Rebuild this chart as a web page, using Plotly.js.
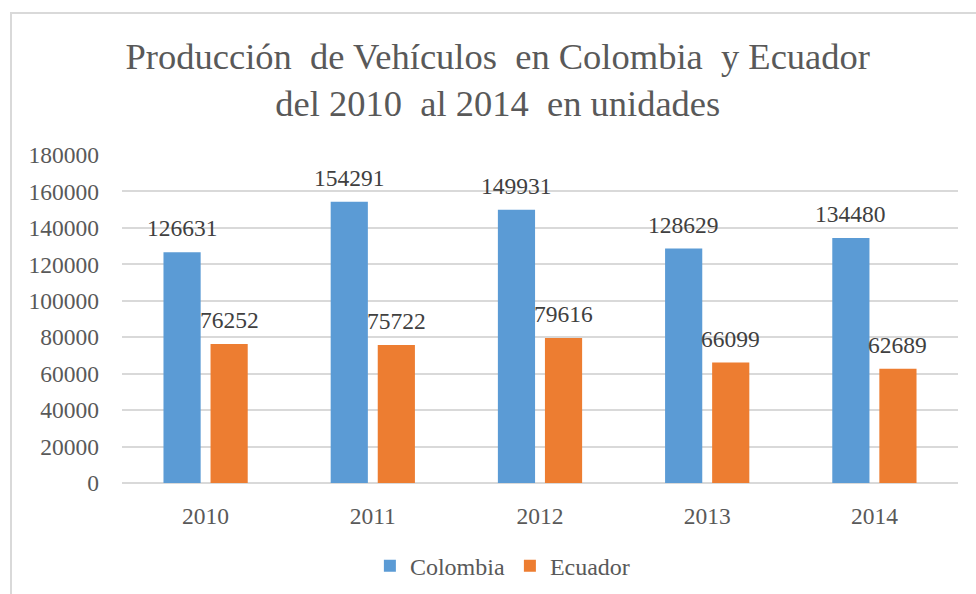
<!DOCTYPE html>
<html>
<head>
<meta charset="utf-8">
<script src="https://cdn.plot.ly/plotly-3.0.1.min.js"></script>
<style>
  html, body { margin: 0; padding: 0; background: #fff; }
  #frame { position: absolute; left: 10px; top: 12px; width: 1000px; height: 620px;
           border-left: 2px solid #d9d9d9; border-top: 2px solid #d9d9d9; box-sizing: border-box; }
  #chart { position: absolute; left: 0; top: 0; width: 976px; height: 594px; }
</style>
</head>
<body>
<div id="frame"></div>
<div id="chart"></div>
<script>
const years = ['2010', '2011', '2012', '2013', '2014'];
const colombia = [126631, 154291, 149931, 128629, 134480];
const ecuador = [76252, 75722, 79616, 66099, 62689];
const yTicks = [0, 20000, 40000, 60000, 80000, 100000, 120000, 140000, 160000, 180000];

const serif = 'Liberation Serif';
const blue = '#5b9bd5';
const orange = '#ed7d31';

const traces = [
  { type: 'bar', name: 'Colombia', x: years, y: colombia, marker: { color: blue }, hoverinfo: 'none' },
  { type: 'bar', name: 'Ecuador', x: years, y: ecuador, marker: { color: orange }, hoverinfo: 'none' }
];

const bargap = 0.437, bargroupgap = 0.21;
const plotW = 976 - 122 - 18;
const slot = plotW / years.length * (1 - bargap) / 2;
const annotations = [];
[colombia, ecuador].forEach((vals, si) => {
  vals.forEach((v, i) => {
    annotations.push({
      x: i, y: v, xref: 'x', yref: 'y', text: String(v), showarrow: false,
      xshift: (si === 0 ? -1 : 1) * slot / 2, yshift: 9, yanchor: 'bottom',
      font: { family: serif, size: 23.5, color: '#404040' }
    });
  });
});

const layout = {
  width: 976, height: 594,
  font: { family: serif, color: '#595959' },
  paper_bgcolor: 'rgba(0,0,0,0)', plot_bgcolor: 'rgba(0,0,0,0)',
  margin: { l: 122, r: 18, t: 155, b: 111, autoexpand: false },
  title: {
    text: 'Producción  de Vehículos  en Colombia  y Ecuador<br>del 2010  al 2014  en unidades',
    font: { family: serif, size: 36.5, color: '#595959' },
    x: 0.51, xanchor: 'center', y: 0.884, yanchor: 'top'
  },
  barmode: 'group', bargap: bargap, bargroupgap: bargroupgap,
  xaxis: {
    type: 'category', range: [-0.5, years.length - 0.5], autorange: false,
    showgrid: false, showline: false, zeroline: false, ticks: '',
    tickfont: { family: serif, size: 23.5, color: '#595959' }, ticklabelstandoff: 16
  },
  yaxis: {
    range: [0, 180000], autorange: false, tickvals: yTicks, ticktext: yTicks.map(String),
    showgrid: true, gridcolor: '#d9d9d9', gridwidth: 2,
    zeroline: true, zerolinecolor: '#d9d9d9', zerolinewidth: 2,
    showline: false, ticks: '',
    tickfont: { family: serif, size: 23.5, color: '#595959' }, ticklabelstandoff: 22
  },
  showlegend: true,
  legend: {
    orientation: 'h', x: 0.455, xanchor: 'center', y: -0.185, yanchor: 'top',
    font: { family: serif, size: 24, color: '#595959' }, itemwidth: 30
  },
  annotations: annotations
};

Plotly.newPlot('chart', traces, layout, { displayModeBar: false, staticPlot: true });
</script>
</body>
</html>
